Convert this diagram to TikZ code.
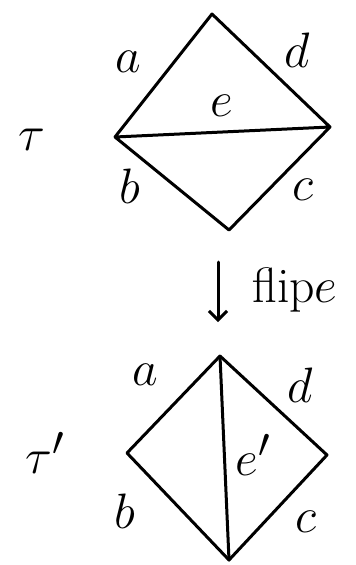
\documentclass[tikz,border=0pt]{standalone}
\usepackage{graphicx}
\usetikzlibrary{arrows.meta}
\newcommand{\hw}[1]{\scalebox{2.0}{\Huge #1}}
\begin{document}
\begin{tikzpicture}[x=1pt,y=-1pt,
  edge/.style={line width=3pt,line join=round,line cap=round},
  lbl/.style={inner sep=0pt}]
\useasboundingbox (0,0) rectangle (356,565);
% top triangulation
\coordinate (T1) at (212,14);
\coordinate (L1) at (115,137);
\coordinate (R1) at (330,127);
\coordinate (B1) at (229,230);
\draw[edge] (L1) -- (T1) -- (R1) -- (B1) -- (L1) -- (R1);
\node[lbl] (a1) at (128,62) {\hw{$a$}};
\node[lbl] (d1) at (297,50) {\hw{$d$}};
\node[lbl] (e1) at (222,106) {\hw{$e$}};
\node[lbl] (b1) at (130,186) {\hw{$b$}};
\node[lbl] (c1) at (303,190) {\hw{$c$}};
\node[lbl] (tau) at (32,140) {\hw{$\tau$}};
% flip arrow
\coordinate (A0) at (218,262);
\coordinate (A1) at (218,322);
\draw[edge,-{Straight Barb[length=9pt,width=18pt]}] (A0) -- (A1);
\node[lbl,anchor=west] (flip) at (252,290) {\hw{flip$e$}};
% bottom triangulation
\coordinate (T2) at (220,356);
\coordinate (L2) at (127,453);
\coordinate (R2) at (327,455);
\coordinate (B2) at (229,560);
\draw[edge] (L2) -- (T2) -- (R2) -- (B2) -- (L2);
\draw[edge] (T2) -- (B2);
\node[lbl] (a2) at (145,375) {\hw{$a$}};
\node[lbl] (d2) at (300,385) {\hw{$d$}};
\node[lbl] (e2) at (253,455) {\hw{$e'$}};
\node[lbl] (b2) at (125,511) {\hw{$b$}};
\node[lbl] (c2) at (306,522) {\hw{$c$}};
\node[lbl] (tau2) at (45,453) {\hw{$\tau'$}};
\end{tikzpicture}
\end{document}
